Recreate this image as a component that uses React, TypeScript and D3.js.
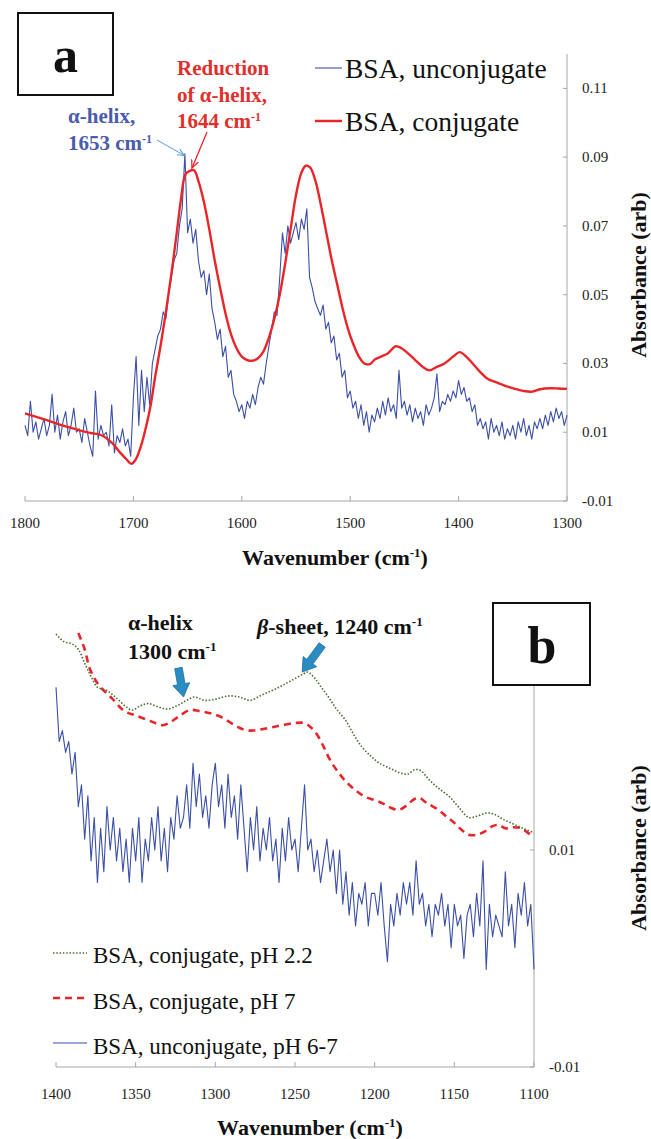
import React from "react";
import * as d3 from "d3";

// ---------- Panel a data ----------
const A_X_TICKS = [1800, 1700, 1600, 1500, 1400, 1300];
const A_Y_TICKS = [-0.01, 0.01, 0.03, 0.05, 0.07, 0.09, 0.11];
const A_Y_LABELS = ["-0.01", "0.01", "0.03", "0.05", "0.07", "0.09", "0.11"];

// BSA, conjugate (smooth red) — wavenumber / absorbance pairs
const A_CONJ_WN = [1800, 1780, 1760, 1740, 1730, 1720, 1712, 1706, 1702, 1698, 1693, 1688, 1684, 1680, 1675, 1670, 1665, 1660, 1656, 1652, 1648, 1644, 1640, 1635, 1630, 1625, 1620, 1615, 1610, 1605, 1600, 1595, 1590, 1585, 1580, 1575, 1570, 1565, 1560, 1555, 1550, 1545, 1541, 1537, 1532, 1527, 1522, 1517, 1512, 1507, 1502, 1497, 1492, 1487, 1482, 1477, 1470, 1465, 1458, 1453, 1447, 1440, 1433, 1427, 1420, 1413, 1405, 1399, 1393, 1387, 1380, 1373, 1365, 1357, 1350, 1340, 1332, 1325, 1315, 1308, 1300];
const A_CONJ_ABS = [0.0155, 0.0135, 0.0115, 0.0098, 0.0092, 0.0070, 0.0040, 0.0020, 0.0008, 0.0020, 0.0060, 0.0120, 0.0180, 0.0260, 0.0350, 0.0450, 0.0560, 0.0680, 0.0780, 0.0850, 0.0860, 0.0862, 0.0830, 0.0770, 0.0690, 0.0600, 0.0520, 0.0445, 0.0385, 0.0345, 0.0320, 0.0310, 0.0308, 0.0315, 0.0335, 0.0375, 0.0430, 0.0500, 0.0590, 0.0690, 0.0790, 0.0855, 0.0875, 0.0870, 0.0830, 0.0760, 0.0680, 0.0600, 0.0530, 0.0460, 0.0400, 0.0355, 0.0320, 0.0300, 0.0298, 0.0312, 0.0322, 0.0330, 0.0350, 0.0345, 0.0330, 0.0310, 0.0290, 0.0280, 0.0290, 0.0300, 0.0320, 0.0333, 0.0320, 0.0300, 0.0275, 0.0255, 0.0245, 0.0235, 0.0228, 0.0220, 0.0218, 0.0225, 0.0228, 0.0227, 0.0226];

// BSA, unconjugate (noisy blue), sampled every 2.5 cm-1 from 1800 to 1300
const A_UNCONJ_START = 1800;
const A_UNCONJ_STEP = 2.5;
const A_UNCONJ_ABS = [
  0.012, 0.009, 0.019, 0.010, 0.013, 0.008, 0.011, 0.014, 0.009, 0.012,
  0.021, 0.010, 0.015, 0.008, 0.013, 0.016, 0.009, 0.012, 0.017, 0.010,
  0.011, 0.007, 0.014, 0.010, 0.006, 0.003, 0.022, 0.008, 0.012, 0.009,
  0.010, 0.006, 0.018, 0.004, 0.009, 0.007, 0.011, 0.006, 0.008, 0.003,
  0.020, 0.032, 0.012, 0.028, 0.016, 0.026, 0.018, 0.030, 0.034, 0.038,
  0.040, 0.045, 0.043, 0.050, 0.055, 0.060, 0.062, 0.070, 0.075, 0.091,
  0.068, 0.072, 0.065, 0.069, 0.060, 0.055, 0.057, 0.050, 0.056, 0.046,
  0.042, 0.037, 0.040, 0.032, 0.035, 0.026, 0.028, 0.021, 0.019, 0.016,
  0.018, 0.014, 0.019, 0.017, 0.021, 0.018, 0.023, 0.026, 0.024, 0.030,
  0.035, 0.040, 0.045, 0.044, 0.055, 0.068, 0.062, 0.070, 0.065, 0.068,
  0.071, 0.066, 0.072, 0.069, 0.075, 0.055, 0.052, 0.048, 0.046, 0.044,
  0.047, 0.040, 0.042, 0.036, 0.038, 0.031, 0.033, 0.026, 0.028, 0.020,
  0.022, 0.017, 0.019, 0.014, 0.018, 0.012, 0.016, 0.010, 0.015, 0.013,
  0.017, 0.014, 0.019, 0.015, 0.020, 0.016, 0.018, 0.014, 0.028, 0.017,
  0.019, 0.015, 0.018, 0.013, 0.017, 0.014, 0.016, 0.012, 0.018, 0.015,
  0.017, 0.020, 0.027, 0.016, 0.019, 0.018, 0.021, 0.019, 0.022, 0.020,
  0.025, 0.021, 0.023, 0.019, 0.020, 0.016, 0.018, 0.012, 0.014, 0.011,
  0.013, 0.008, 0.014, 0.010, 0.012, 0.009, 0.013, 0.008, 0.011, 0.009,
  0.012, 0.008, 0.013, 0.010, 0.014, 0.009, 0.012, 0.008, 0.013, 0.011,
  0.014, 0.011, 0.015, 0.012, 0.016, 0.013, 0.017, 0.014, 0.016, 0.012,
  0.015,
];

// ---------- Panel b data ----------
const B_X_TICKS = [1400, 1350, 1300, 1250, 1200, 1150, 1100];
const B_Y_TICKS = [-0.01, 0.01];
const B_Y_LABELS = ["-0.01", "0.01"];

const B_PH22_WN = [1400, 1395, 1390, 1386, 1382, 1378, 1374, 1368, 1362, 1356, 1352, 1347, 1342, 1336, 1330, 1324, 1318, 1313, 1307, 1300, 1292, 1285, 1278, 1272, 1266, 1260, 1255, 1250, 1245, 1242, 1238, 1234, 1229, 1224, 1218, 1213, 1208, 1202, 1197, 1190, 1184, 1179, 1175, 1171, 1166, 1160, 1153, 1147, 1141, 1136, 1130, 1125, 1119, 1113, 1107, 1100];
const B_PH22_ABS = [0.0299, 0.0292, 0.0290, 0.0285, 0.0272, 0.0260, 0.0250, 0.0247, 0.0240, 0.0232, 0.0229, 0.0233, 0.0235, 0.0232, 0.0230, 0.0233, 0.0238, 0.0241, 0.0238, 0.0239, 0.0242, 0.0241, 0.0238, 0.0242, 0.0246, 0.0250, 0.0254, 0.0258, 0.0262, 0.0264, 0.0259, 0.0251, 0.0241, 0.0230, 0.0219, 0.0206, 0.0195, 0.0186, 0.0180, 0.0175, 0.0171, 0.0170, 0.0174, 0.0173, 0.0165, 0.0157, 0.0149, 0.0139, 0.0130, 0.0131, 0.0134, 0.0133, 0.0128, 0.0124, 0.0120, 0.0116];

const B_PH7_WN = [1386, 1382, 1379, 1375, 1372, 1365, 1357, 1350, 1341, 1333, 1328, 1323, 1316, 1310, 1303, 1297, 1290, 1284, 1278, 1272, 1265, 1258, 1250, 1244, 1240, 1236, 1232, 1228, 1223, 1218, 1212, 1206, 1200, 1195, 1190, 1185, 1180, 1175, 1172, 1167, 1160, 1155, 1150, 1145, 1141, 1136, 1131, 1126, 1122, 1118, 1113, 1108, 1104, 1100];
const B_PH7_ABS = [0.0300, 0.0285, 0.0268, 0.0256, 0.0250, 0.0240, 0.0228, 0.0224, 0.0219, 0.0215, 0.0218, 0.0223, 0.0229, 0.0228, 0.0226, 0.0223, 0.0217, 0.0212, 0.0210, 0.0211, 0.0213, 0.0215, 0.0217, 0.0217, 0.0213, 0.0206, 0.0195, 0.0183, 0.0172, 0.0163, 0.0155, 0.0149, 0.0146, 0.0143, 0.0139, 0.0137, 0.0141, 0.0147, 0.0148, 0.0143, 0.0137, 0.0131, 0.0125, 0.0118, 0.0114, 0.0114, 0.0117, 0.0122, 0.0123, 0.0120, 0.0121, 0.0120, 0.0116, 0.0112];

// unconjugate pH 6-7 (noisy blue), every 2 cm-1 from 1400 to 1100
const B_UNCONJ_START = 1400;
const B_UNCONJ_STEP = 2;
const B_UNCONJ_ABS = [
  0.025, 0.020, 0.021, 0.019, 0.020, 0.017, 0.019, 0.014, 0.016, 0.011,
  0.015, 0.009, 0.013, 0.007, 0.012, 0.008, 0.014, 0.010, 0.013, 0.009,
  0.012, 0.008, 0.011, 0.007, 0.012, 0.009, 0.013, 0.007, 0.011, 0.009,
  0.013, 0.010, 0.014, 0.009, 0.012, 0.008, 0.013, 0.011, 0.015, 0.012,
  0.013, 0.016, 0.012, 0.018, 0.014, 0.017, 0.013, 0.015, 0.012, 0.016,
  0.018, 0.014, 0.016, 0.012, 0.017, 0.013, 0.015, 0.011, 0.016, 0.012,
  0.008, 0.013, 0.010, 0.014, 0.009, 0.012, 0.010, 0.013, 0.009, 0.011,
  0.007, 0.012, 0.009, 0.013, 0.010, 0.011, 0.008, 0.012, 0.016, 0.010,
  0.011, 0.008, 0.010, 0.007, 0.009, 0.011, 0.008, 0.010, 0.006, 0.010,
  0.005, 0.008, 0.004, 0.007, 0.003, 0.006, 0.005, 0.007, 0.003, 0.006,
  0.006, 0.004, 0.007, 0.003, -0.0003, 0.005, 0.003, 0.006, 0.004, 0.007,
  0.005, 0.007, 0.004, 0.009, 0.005, 0.006, 0.003, 0.005, 0.002, 0.005,
  0.004, 0.006, 0.003, 0.005, 0.001, 0.005, 0.003, 0.004, 0.000, 0.004,
  0.005, 0.002, 0.006, 0.003, 0.009, -0.001, 0.005, 0.002, 0.004, 0.003,
  0.002, 0.008, 0.003, 0.005, 0.001, 0.006, 0.004, 0.007, 0.003, 0.005,
  -0.001,
];

const FONT = "'Liberation Serif', Tinos, 'Times New Roman', Times, 'DejaVu Serif', serif";
const AXIS = "#a6a6a6";
const BLUE = "#3b4fa6";
const RED = "#e8262a";
const GREEN = "#4d6b2e";
const ARROW = "#2b8cc4";

type Pt = [number, number];

function blockArrow(tail: Pt, tip: Pt) {
  const dx = tip[0] - tail[0];
  const dy = tip[1] - tail[1];
  const L = Math.hypot(dx, dy);
  const ux = dx / L, uy = dy / L;
  const px = -uy, py = ux;
  const head = 13, sw = 3.8, hw = 8.5;
  const nx = tip[0] - ux * head, ny = tip[1] - uy * head;
  const pts: Pt[] = [
    [tail[0] + px * sw, tail[1] + py * sw],
    [nx + px * sw, ny + py * sw],
    [nx + px * hw, ny + py * hw],
    tip,
    [nx - px * hw, ny - py * hw],
    [nx - px * sw, ny - py * sw],
    [tail[0] - px * sw, tail[1] - py * sw],
  ];
  return "M" + pts.map((p) => p.join(",")).join("L") + "Z";
}

export default function App() {
  // Panel a scales
  const xA = d3.scaleLinear().domain([1800, 1300]).range([25, 567]);
  const yA = d3.scaleLinear().domain([-0.01, 0.12]).range([501, 54]);
  // Panel b scales
  const xB = d3.scaleLinear().domain([1400, 1100]).range([56, 534]);
  const yB = d3.scaleLinear().domain([-0.01, 0.03]).range([1067, 633]);

  const aConj: Pt[] = A_CONJ_WN.map((w, i) => [w, A_CONJ_ABS[i]]);
  const aUnconj: Pt[] = A_UNCONJ_ABS.map((v, i) => [A_UNCONJ_START - i * A_UNCONJ_STEP, v]);
  const bPh22: Pt[] = B_PH22_WN.map((w, i) => [w, B_PH22_ABS[i]]);
  const bPh7: Pt[] = B_PH7_WN.map((w, i) => [w, B_PH7_ABS[i]]);
  const bUnconj: Pt[] = B_UNCONJ_ABS.map((v, i) => [B_UNCONJ_START - i * B_UNCONJ_STEP, v]);

  const lineA = d3.line<Pt>().x((d) => xA(d[0])).y((d) => yA(d[1]));
  const smoothA = d3.line<Pt>().x((d) => xA(d[0])).y((d) => yA(d[1])).curve(d3.curveCatmullRom.alpha(0.5));
  const lineB = d3.line<Pt>().x((d) => xB(d[0])).y((d) => yB(d[1]));
  const smoothB = d3.line<Pt>().x((d) => xB(d[0])).y((d) => yB(d[1])).curve(d3.curveCatmullRom.alpha(0.5));

  const alphaTip: Pt = [xB(1320), yB(0.0241)];
  const alphaTail: Pt = [alphaTip[0] - 5, alphaTip[1] - 29];
  const betaTip: Pt = [xB(1245.5), yB(0.0264)];
  const betaTail: Pt = [betaTip[0] + 20, betaTip[1] - 27];

  const xTitle = (x: number, y: number) => (
    <text x={x} y={y} textAnchor="middle" fontFamily={FONT} fontWeight="bold" fontSize={22} fill="#111">
      <tspan>Wavenumber (cm</tspan>
      <tspan dy={-8} fontSize={13}>-1</tspan>
      <tspan dy={8}>)</tspan>
    </text>
  );

  return (
    <svg width={651} height={1139} style={{ display: "block", position: "absolute", left: 0, top: 0, background: "#fff" }}>
      <defs>
        <marker id="arrBlue" viewBox="0 0 10 10" refX="9" refY="5" markerWidth="8" markerHeight="8" orient="auto" markerUnits="userSpaceOnUse">
          <path d="M0,1 L9,5 L0,9" fill="none" stroke="#5b9bd5" strokeWidth={1.3} />
        </marker>
        <marker id="arrRed" viewBox="0 0 10 10" refX="9" refY="5" markerWidth="9" markerHeight="9" orient="auto" markerUnits="userSpaceOnUse">
          <path d="M0,1 L9,5 L0,9" fill="none" stroke={RED} strokeWidth={1.4} />
        </marker>
      </defs>
      <rect width={651} height={1139} fill="#fff" />

      {/* ================= Panel a ================= */}
      <g>
        <line x1={xA(1300)} x2={xA(1300)} y1={yA(0.12)} y2={yA(-0.01)} stroke={AXIS} strokeWidth={1} />
        <line x1={xA(1800)} x2={xA(1300)} y1={yA(-0.01)} y2={yA(-0.01)} stroke={AXIS} strokeWidth={1} />
        {A_Y_TICKS.map((t, i) => (
          <g key={"ay" + i}>
            <line x1={xA(1300) - 4} x2={xA(1300)} y1={yA(t)} y2={yA(t)} stroke={AXIS} />
            <text x={xA(1300) + 15} y={yA(t) + 5} fontFamily={FONT} fontSize={15} fill="#222">{A_Y_LABELS[i]}</text>
          </g>
        ))}
        {A_X_TICKS.map((t) => (
          <g key={"ax" + t}>
            <line x1={xA(t)} x2={xA(t)} y1={yA(-0.01)} y2={yA(-0.01) - 5} stroke={AXIS} />
            <text x={xA(t)} y={528} textAnchor="middle" fontFamily={FONT} fontSize={15} fill="#222">{t}</text>
          </g>
        ))}
        {xTitle(335, 565)}
        <text transform="translate(646,275) rotate(-90)" textAnchor="middle" fontFamily={FONT} fontWeight="bold" fontSize={22} fill="#111">Absorbance (arb)</text>

        <path d={lineA(aUnconj) || ""} fill="none" stroke={BLUE} strokeWidth={1.1} strokeLinejoin="round" />
        <path d={smoothA(aConj) || ""} fill="none" stroke={RED} strokeWidth={2.4} strokeLinejoin="round" />

        <rect x={18} y={13} width={95} height={82} fill="#fff" stroke="#111" strokeWidth={2} />
        <text x={65.5} y={72} textAnchor="middle" fontFamily={FONT} fontWeight="bold" fontSize={50} fill="#111">a</text>

        <line x1={315} x2={342} y1={68} y2={68} stroke={BLUE} strokeWidth={1.1} />
        <text x={345} y={78} fontFamily={FONT} fontSize={27.5} fill="#111">BSA, unconjugate</text>
        <line x1={315} x2={342} y1={121} y2={121} stroke={RED} strokeWidth={2.5} />
        <text x={345} y={131} fontFamily={FONT} fontSize={27.5} fill="#111">BSA, conjugate</text>

        <g fontFamily={FONT} fontWeight="bold" fontSize={21} fill="#e0302c">
          <text x={177} y={75}>Reduction</text>
          <text x={177} y={102}>of α-helix,</text>
          <text x={177} y={128}>
            <tspan>1644 cm</tspan>
            <tspan dy={-7} fontSize={12}>-1</tspan>
          </text>
        </g>
        <g fontFamily={FONT} fontWeight="bold" fontSize={21} fill="#4a5cab">
          <text x={68} y={123}>α-helix,</text>
          <text x={68} y={150}>
            <tspan>1653 cm</tspan>
            <tspan dy={-7} fontSize={12}>-1</tspan>
          </text>
        </g>
        <line x1={157} y1={140} x2={xA(1653)} y2={yA(0.0905)} stroke="#5b9bd5" strokeWidth={1} markerEnd="url(#arrBlue)" />
        <line x1={207} y1={132} x2={xA(1646)} y2={yA(0.0868)} stroke={RED} strokeWidth={1.3} markerEnd="url(#arrRed)" />
      </g>

      {/* ================= Panel b ================= */}
      <g>
        <line x1={xB(1100)} x2={xB(1100)} y1={yB(0.03)} y2={yB(-0.01)} stroke={AXIS} strokeWidth={1} />
        <line x1={xB(1400)} x2={xB(1100)} y1={yB(-0.01)} y2={yB(-0.01)} stroke={AXIS} strokeWidth={1} />
        {B_Y_TICKS.map((t, i) => (
          <g key={"by" + i}>
            <line x1={xB(1100) - 4} x2={xB(1100)} y1={yB(t)} y2={yB(t)} stroke={AXIS} />
            <text x={xB(1100) + 15} y={yB(t) + 5} fontFamily={FONT} fontSize={15} fill="#222">{B_Y_LABELS[i]}</text>
          </g>
        ))}
        {B_X_TICKS.map((t) => (
          <g key={"bx" + t}>
            <line x1={xB(t)} x2={xB(t)} y1={yB(-0.01)} y2={yB(-0.01) - 5} stroke={AXIS} />
            <text x={xB(t)} y={1099} textAnchor="middle" fontFamily={FONT} fontSize={15} fill="#222">{t}</text>
          </g>
        ))}
        {xTitle(310, 1135)}
        <text transform="translate(646,848) rotate(-90)" textAnchor="middle" fontFamily={FONT} fontWeight="bold" fontSize={22} fill="#111">Absorbance (arb)</text>

        <path d={lineB(bUnconj) || ""} fill="none" stroke={BLUE} strokeWidth={1.1} strokeLinejoin="round" />
        <path d={smoothB(bPh7) || ""} fill="none" stroke={RED} strokeWidth={2.6} strokeDasharray="7,5" />
        <path d={smoothB(bPh22) || ""} fill="none" stroke={GREEN} strokeWidth={1.6} strokeDasharray="1.5,1.8" />

        <g fontFamily={FONT} fontWeight="bold" fontSize={22} fill="#111">
          <text x={128} y={630}>α-helix</text>
          <text x={128} y={659}>
            <tspan>1300 cm</tspan>
            <tspan dy={-8} fontSize={13}>-1</tspan>
          </text>
          <text x={257} y={634}>
            <tspan fontStyle="italic">β</tspan>
            <tspan>-sheet, 1240 cm</tspan>
            <tspan dy={-8} fontSize={13}>-1</tspan>
          </text>
        </g>
        <path d={blockArrow(alphaTail, alphaTip)} fill={ARROW} stroke="#1f6d9e" strokeWidth={0.8} />
        <path d={blockArrow(betaTail, betaTip)} fill={ARROW} stroke="#1f6d9e" strokeWidth={0.8} />

        <rect x={493} y={603} width={97} height={82} fill="#fff" stroke="#111" strokeWidth={2} />
        <text x={542} y={663} textAnchor="middle" fontFamily={FONT} fontWeight="bold" fontSize={52} fill="#111">b</text>

        <line x1={53} x2={87} y1={953} y2={953} stroke={GREEN} strokeWidth={1.5} strokeDasharray="1.5,1.8" />
        <text x={93} y={963} fontFamily={FONT} fontSize={23} fill="#111">BSA, conjugate, pH 2.2</text>
        <line x1={53} x2={87} y1={998} y2={998} stroke={RED} strokeWidth={2.4} strokeDasharray="7,5" />
        <text x={93} y={1009} fontFamily={FONT} fontSize={23} fill="#111">BSA, conjugate, pH 7</text>
        <line x1={53} x2={87} y1={1043} y2={1043} stroke={BLUE} strokeWidth={1.2} />
        <text x={93} y={1054} fontFamily={FONT} fontSize={23} fill="#111">BSA, unconjugate, pH 6-7</text>
      </g>
    </svg>
  );
}
